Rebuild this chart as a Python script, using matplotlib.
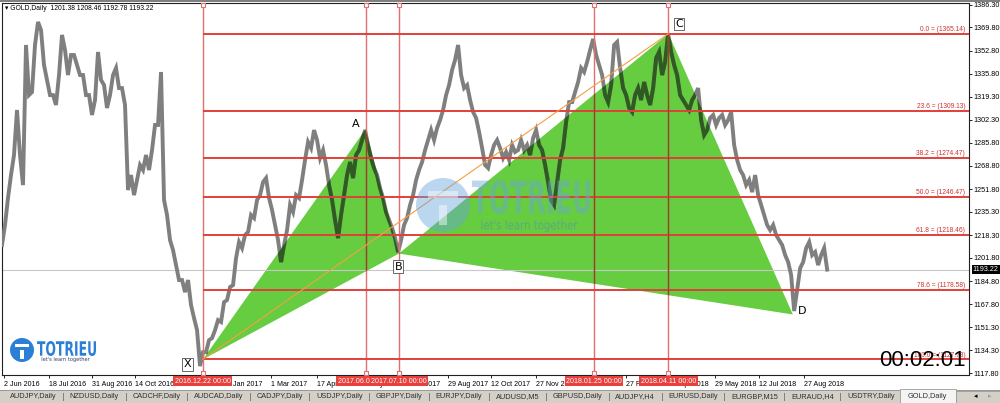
import matplotlib
matplotlib.use('Agg')
import matplotlib.pyplot as plt
import matplotlib.dates as mdates
import pandas as pd
from matplotlib.patches import Polygon, Rectangle, Ellipse, PathPatch
from matplotlib.textpath import TextPath
from matplotlib.font_manager import FontProperties
from matplotlib.transforms import Affine2D, blended_transform_factory

# ---- values ----
symbol = 'GOLD,Daily'
header_ohlc = [1201.38, 1208.46, 1192.78, 1193.22]
last_price = 1193.22
timer = '00:02:01'

# daily gold path, sampled evenly between these two dates
path_start, path_end = '2016-05-31', '2018-09-20'
prices_to_x = [
    1211.1, 1225.7, 1245.4, 1262.1, 1276.7, 1309.5, 1276.7, 1254.8, 1356.9, 1320.4,
    1322.6, 1356.9, 1373.7, 1367.8, 1342.3, 1331.4, 1320.4, 1320.4, 1313.2, 1335.0,
    1364.2, 1353.2, 1335.0, 1349.6, 1349.6, 1342.3, 1335.0, 1335.0, 1320.4, 1320.4,
    1305.9, 1316.8, 1351.8, 1331.4, 1327.7, 1311.0, 1320.4, 1335.0, 1340.1, 1325.5,
    1325.5, 1313.2, 1251.2, 1262.1, 1247.5, 1258.5, 1269.4, 1265.8, 1276.7, 1265.8,
    1280.3, 1298.6, 1298.6, 1337.2, 1243.9, 1233.0, 1214.7, 1207.4, 1196.5, 1185.6,
    1185.6, 1176.8, 1185.6, 1167.4, 1157.9, 1149.1, 1122.9, 1133.1]
prices_x_to_b = [
    1133.1, 1141.8, 1143.3, 1149.1, 1156.4, 1155.0, 1169.5, 1171.0, 1180.5, 1181.9,
    1201.6, 1213.3, 1208.9, 1218.4, 1220.6, 1233.0, 1230.8, 1243.9, 1247.5, 1257.0,
    1259.9, 1245.4, 1236.6, 1225.7, 1214.7, 1198.7, 1211.1, 1222.0, 1240.3, 1235.2,
    1247.5, 1245.4, 1258.5, 1273.1, 1286.2, 1281.8, 1294.9, 1287.6, 1274.5, 1280.3,
    1269.4, 1254.8, 1243.9, 1229.3, 1216.2, 1233.0, 1247.5, 1262.1, 1271.6, 1259.9,
    1276.7, 1280.3, 1287.6, 1294.9, 1284.0, 1274.5, 1267.2, 1262.1, 1252.6, 1245.4,
    1235.2, 1229.3, 1223.5, 1216.2, 1206.0]
prices_b_to_end = [
    1214.7, 1225.7, 1230.8, 1240.3, 1247.5, 1258.5, 1265.8, 1271.6, 1280.3, 1287.6,
    1294.9, 1287.6, 1296.4, 1302.2, 1309.5, 1320.4, 1327.7, 1338.7, 1346.0, 1356.9,
    1335.0, 1325.5, 1327.7, 1316.8, 1308.1, 1303.7, 1293.5, 1281.8, 1269.4, 1267.2,
    1276.7, 1284.0, 1287.6, 1281.8, 1274.5, 1278.9, 1273.1, 1284.0, 1278.9, 1280.3,
    1287.6, 1280.3, 1284.0, 1276.7, 1289.1, 1294.9, 1284.0, 1280.3, 1269.4, 1257.0,
    1243.9, 1240.3, 1257.0, 1273.1, 1281.8, 1300.8, 1315.3, 1315.3, 1322.6, 1329.9,
    1340.1, 1337.2, 1344.5, 1353.2, 1361.3, 1349.6, 1342.3, 1335.0, 1320.4, 1315.3,
    1327.7, 1356.9, 1359.1, 1340.1, 1325.5, 1320.4, 1311.0, 1308.1, 1320.4, 1325.5,
    1316.8, 1329.9, 1320.4, 1313.2, 1325.5, 1347.4, 1351.8, 1335.0, 1344.5, 1365.1,
    1351.8, 1342.3, 1335.0, 1320.4, 1316.8, 1313.2, 1309.5, 1316.8, 1320.4, 1325.5,
    1302.2, 1291.3, 1294.9, 1303.7, 1305.9, 1298.6, 1303.7, 1305.9, 1298.6, 1302.2,
    1308.1, 1284.0, 1273.1, 1265.8, 1262.1, 1254.8, 1258.5, 1249.7, 1262.1, 1247.5,
    1240.3, 1233.0, 1225.7, 1222.0, 1225.7, 1218.4, 1214.7, 1211.1, 1203.8, 1198.7,
    1189.2, 1163.0, 1178.3, 1194.3, 1198.7, 1208.9, 1213.3, 1203.8, 1206.0, 1196.5,
    1203.8, 1208.9, 1193.2]

# XABCD pattern
pattern_names = ['X', 'A', 'B', 'C', 'D']
pattern_dates = ['2016-12-22', '2017-06-06', '2017-07-10', '2018-04-11', '2018-08-16']
pattern_prices = [1127.78, 1295.5, 1204.9, 1365.14, 1160.5]

# vertical lines (with their time labels)
vline_dates = ['2016-12-22', '2017-06-06', '2017-07-10', '2018-01-25', '2018-04-11']

# fibonacci retracement
fib_ratios = [0.0, 23.6, 38.2, 50.0, 61.8, 78.6, 100.0]
fib_prices = [1365.14, 1309.13, 1274.47, 1246.47, 1218.46, 1178.58, 1127.78]

yticks = [1386.30, 1369.80, 1352.80, 1335.80, 1319.30, 1302.30, 1285.80, 1268.80,
          1251.80, 1235.30, 1218.30, 1201.80, 1184.80, 1167.80, 1151.30, 1134.30, 1117.80]
xtick_dates = ['2016-06-02', '2016-07-18', '2016-08-31', '2016-10-14', '2016-11-28',
               '2017-01-12', '2017-03-01', '2017-04-17', '2017-05-31', '2017-07-14',
               '2017-08-29', '2017-10-12', '2017-11-27', '2018-01-11', '2018-02-27',
               '2018-04-13', '2018-05-29', '2018-07-12', '2018-08-27']

tabs = ['AUDJPY,Daily', 'NZDUSD,Daily', 'CADCHF,Daily', 'AUDCAD,Daily', 'CADJPY,Daily',
        'USDJPY,Daily', 'GBPJPY,Daily', 'EURJPY,Daily', 'AUDUSD,M5', 'GBPUSD,Daily',
        'AUDJPY,H4', 'EURUSD,Daily', 'EURGBP,M15', 'EURAUD,H4', 'USDTRY,Daily', 'GOLD,Daily']

# ---- styling ----
W, H = 1000, 403
FONT = ['Liberation Sans', 'DejaVu Sans']
GREEN = '#66cc40'
DARK_IN_GREEN = '#2f5a22'
BAR_GREY = '#7f7f7f'
FIB_RED = '#e0403a'
VLINE_RED = '#e07070'

plt.rcParams['font.family'] = FONT

fig = plt.figure(figsize=(W / 100, H / 100), dpi=100)
fig.patch.set_facecolor('white')


def fx(px):
    return px / W


def fy(py):
    return 1 - py / H


ax = fig.add_axes([fx(2), fy(375), fx(969) - fx(2), fy(3) - fy(375)])
ax.set_facecolor('white')

to_num = lambda ds: mdates.date2num(pd.to_datetime(ds).to_pydatetime())

prices = prices_to_x + prices_x_to_b + prices_b_to_end
t = pd.date_range(path_start, path_end, periods=len(prices))
xp = mdates.date2num(t.to_pydatetime())

x0 = mdates.date2num(pd.Timestamp(path_start).to_pydatetime())
ax.set_xlim(x0, x0 + 967 / 0.98)
ax.set_ylim(1116.4, 1387.5)

px_dates = to_num(pattern_dates)
pts = list(zip(px_dates, pattern_prices))

# harmonic triangles
tri1 = Polygon(pts[0:3], closed=True, fc=GREEN, ec='none', zorder=2)
tri2 = Polygon(pts[2:5], closed=True, fc=GREEN, ec='none', zorder=2)
ax.add_patch(tri1)
ax.add_patch(tri2)

# price bars
ax.plot(xp, prices, color=BAR_GREY, lw=2.8, zorder=3, solid_joinstyle='miter')
for tri in (tri1, tri2):
    ln, = ax.plot(xp, prices, color=DARK_IN_GREEN, lw=2.8, zorder=4, solid_joinstyle='miter')
    ln.set_clip_path(tri)

# current price line
ax.axhline(last_price, color='#c8c8c8', lw=0.8, zorder=2.5)

# vertical lines
trans_xa = blended_transform_factory(ax.transData, ax.transAxes)
for d in to_num(vline_dates):
    ax.axvline(d, color=VLINE_RED, lw=1.0, zorder=5)
    for tri in (tri1, tri2):
        ln = ax.axvline(d, color='#8a4a22', lw=1.0, zorder=5.5)
        ln.set_clip_path(tri)
    ax.plot([d, d], [0.995, 0.006], ls='none', marker='s', ms=2.6, mfc='white',
            mec=VLINE_RED, mew=0.8, transform=trans_xa, clip_on=False, zorder=6)

# fibonacci levels
xmax = ax.get_xlim()[1]
ax.hlines(fib_prices, px_dates[0], xmax, color=FIB_RED, lw=1.4, zorder=5)
trans_ad = blended_transform_factory(ax.transAxes, ax.transData)
for r, p in zip(fib_ratios, fib_prices):
    ax.text(0.996, p + 0.6, f'{r:.1f} = ({p:.2f})', transform=trans_ad, ha='right',
            va='bottom', fontsize=4.8, color='#d03030', zorder=7)

# X -> C line
ax.plot([px_dates[0], px_dates[3]], [pattern_prices[0], pattern_prices[3]],
        color='#f5a040', lw=0.8, zorder=6)

# pattern labels
offsets = {'X': (-11, -3.5), 'A': (-7, 3.5), 'B': (-0.5, -9.5), 'C': (7.5, 7), 'D': (6.5, 2.5)}
boxed = {'X', 'B', 'C'}
for name, (dx, dy) in zip(pattern_names, pts):
    ox, oy = offsets[name]
    kw = {}
    if name in boxed:
        kw['bbox'] = dict(boxstyle='square,pad=0.12', fc='white', ec='#505050', lw=0.6)
    ax.annotate(name, (dx, dy), xytext=(ox, oy), textcoords='offset points',
                ha='center', va='center', fontsize=8, family='DejaVu Sans',
                zorder=8, **kw)

# axes look
for s in ax.spines.values():
    s.set_color('#202020')
    s.set_linewidth(0.8)
ax.yaxis.tick_right()
ax.set_yticks(yticks)
ax.set_yticklabels([f'{v:.2f}' for v in yticks])
ax.tick_params(axis='y', direction='out', length=2, width=0.6, pad=1, labelsize=5.2)
xt = to_num(xtick_dates)
ax.set_xticks(xt)
ax.set_xticklabels([f"{d.day} {d.strftime('%b %Y')}" for d in pd.to_datetime(xtick_dates)])
ax.tick_params(axis='x', direction='out', length=2.5, width=0.6, pad=1.5, labelsize=5.1)
for lbl in ax.get_xticklabels():
    lbl.set_ha('left')

# red time labels of vertical lines
for d, ds in zip(to_num(vline_dates), vline_dates):
    lab = pd.Timestamp(ds).strftime('%Y.%m.%d 00:00')
    ax.text(d, -0.017, lab, transform=trans_xa, ha='center', va='center',
            fontsize=5.1, color='white', clip_on=False, zorder=10,
            bbox=dict(boxstyle='square,pad=0.2', fc='#e8403c', ec='none'))

# current price tag
ax.text(1.004, last_price, f'{last_price:.2f}', transform=trans_ad, ha='left', va='center',
        fontsize=5.2, color='white', clip_on=False, zorder=10,
        bbox=dict(boxstyle='square,pad=0.15', fc='black', ec='none'))

# header
o, h_, l, c = header_ohlc
fig.text(fx(5), fy(9), f'\u25BE {symbol}  {o:.2f} {h_:.2f} {l:.2f} {c:.2f}',
         fontsize=4.9, va='center', ha='left', zorder=20)
fig.add_artist(Rectangle((0, fy(2)), 1, 2 / H, transform=fig.transFigure, fc='#808080', ec='none'))

# timer
fig.text(fx(966), fy(361), timer, ha='right', va='center', fontsize=16,
         family='Liberation Sans', zorder=20)


def fit_text(s, x0p, y0p, w, h, color, alpha=1.0, weight='bold', z=20):
    tp = TextPath((0, 0), s, size=10, prop=FontProperties(family='DejaVu Sans', weight=weight))
    bb = tp.get_extents()
    tr = (Affine2D().translate(-bb.x0, -bb.y0)
          .scale(w / bb.width / W, h / bb.height / H)
          .translate(x0p / W, 1 - (y0p + h) / H) + fig.transFigure)
    fig.add_artist(PathPatch(tp, transform=tr, fc=color, ec='none', alpha=alpha, zorder=z))


def logo(cx, cy, r, x_txt, y_txt, w_txt, h_txt, y_sub, w_sub, h_sub, col, sub_col, alpha, sub_alpha):
    fig.add_artist(Ellipse((cx / W, 1 - cy / H), 2 * r / W, 2 * r / H, transform=fig.transFigure,
                           fc=col, ec='none', alpha=alpha, zorder=20))
    # the white "T" inside the round mark
    fig.add_artist(Rectangle(((cx - 0.55 * r) / W, 1 - (cy - 0.25 * r) / H), 1.1 * r / W, 0.28 * r / H,
                             transform=fig.transFigure, fc='white', ec='none', alpha=alpha, zorder=21))
    fig.add_artist(Rectangle(((cx - 0.14 * r) / W, 1 - (cy + 0.75 * r) / H), 0.28 * r / W, 0.75 * r / H,
                             transform=fig.transFigure, fc='white', ec='none', alpha=alpha, zorder=21))
    fit_text('TOTRIEU', x_txt, y_txt, w_txt, h_txt, col, alpha=alpha)
    fit_text("let's learn together", x_txt + 0.08 * w_txt, y_sub, w_sub, h_sub, sub_col,
             alpha=sub_alpha, weight='normal')


# watermark in the middle and logo bottom-left
logo(443, 205, 27, 472, 180, 118, 34, 220, 96, 12, '#6aa6dc', '#5a8fb0', 0.45, 0.6)
logo(22, 350, 12, 37, 341, 59, 15, 357, 48, 5, '#2b80d6', '#2a3560', 1.0, 1.0)

# tab bar
fig.add_artist(Rectangle((0, 0), 1, 12 / H, transform=fig.transFigure, fc='#d4d0c8', ec='none', zorder=15))
fig.add_artist(Rectangle((0, 12 / H), 1, 1 / H, transform=fig.transFigure, fc='#9a9a9a', ec='none', zorder=15))
renderer = fig.canvas.get_renderer()
xpos = 10
for i, name in enumerate(tabs):
    active = name == symbol
    if active:
        fig.add_artist(Rectangle((fx(xpos - 8), 0), 56 / W, 14 / H, transform=fig.transFigure,
                                 fc='#f4f4f4', ec='#9a9a9a', lw=0.6, zorder=16))
    tt = fig.text(fx(xpos), fy(397), name, fontsize=5.3, va='center', ha='left',
                  color='#303030', zorder=17)
    bb = tt.get_window_extent(renderer=renderer)
    xpos = bb.x1 + 13.2
    if not active and i + 1 < len(tabs) and tabs[i + 1] != symbol:
        fig.add_artist(Rectangle((fx(xpos - 6.6), fy(401)), 1 / W, 8 / H, transform=fig.transFigure,
                                 fc='#808080', ec='none', zorder=17))
fig.add_artist(Rectangle((fx(956), 0), 44 / W, 12 / H, transform=fig.transFigure,
                         fc='#d4d0c8', ec='#9a9a9a', lw=0.6, zorder=16))
fig.text(fx(976), fy(397), '\u25C2', fontsize=5, ha='center', va='center', zorder=17)
fig.text(fx(990), fy(397), '\u25B8', fontsize=5, ha='center', va='center', color='#a0a0a0', zorder=17)

fig.savefig('out.png', dpi=100, facecolor='white')
